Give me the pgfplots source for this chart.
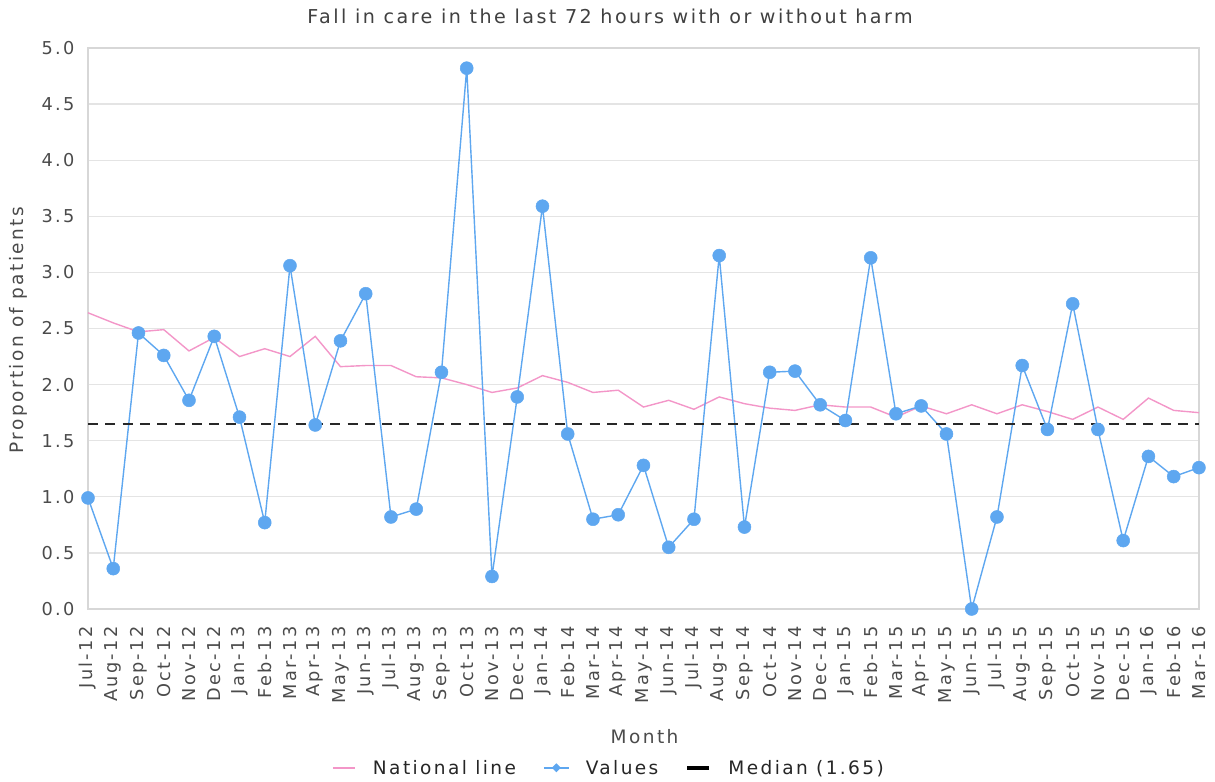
\documentclass[border=0pt]{standalone}
\usepackage{pgfplots}
\pgfplotsset{compat=1.18}
\usepackage{pgfplotstable}
\usepackage{fontspec}
\setmainfont{DejaVu Sans}[LetterSpace=13]

\definecolor{natpink}{RGB}{243,150,200}
\definecolor{valblue}{RGB}{94,167,240}
\definecolor{medgray}{RGB}{40,40,40}
\definecolor{gridgray}{RGB}{228,228,228}
\definecolor{boxgray}{RGB}{215,215,215}
\definecolor{txtgray}{RGB}{75,75,75}
\newcommand{\lblfont}{\fontsize{17.8}{20}\selectfont}
\newcommand{\bigfont}{\fontsize{18.6}{21}\selectfont}

% month index, national line, values
\pgfplotstableread{
i  nat   val
0  2.64  0.99
1  2.55  0.36
2  2.47  2.46
3  2.49  2.26
4  2.30  1.86
5  2.42  2.43
6  2.25  1.71
7  2.32  0.77
8  2.25  3.06
9  2.43  1.64
10 2.16  2.39
11 2.17  2.81
12 2.17  0.82
13 2.07  0.89
14 2.06  2.11
15 2.00  4.82
16 1.93  0.29
17 1.97  1.89
18 2.08  3.59
19 2.02  1.56
20 1.93  0.80
21 1.95  0.84
22 1.80  1.28
23 1.86  0.55
24 1.78  0.80
25 1.89  3.15
26 1.83  0.73
27 1.79  2.11
28 1.77  2.12
29 1.82  1.82
30 1.80  1.68
31 1.80  3.13
32 1.71  1.74
33 1.81  1.81
34 1.74  1.56
35 1.82  0.00
36 1.74  0.82
37 1.82  2.17
38 1.76  1.60
39 1.69  2.72
40 1.80  1.60
41 1.69  0.61
42 1.88  1.36
43 1.77  1.18
44 1.75  1.26
}\falls

\begin{document}
\begin{tikzpicture}
\path[use as bounding box] (-88bp,-173bp) rectangle (1127bp,609bp);
\begin{axis}[
  at={(0,0)}, anchor=south west,
  scale only axis, width=1111bp, height=561bp,
  xmin=0, xmax=44, ymin=0, ymax=5,
  clip=false,
  xtick={0,...,44},
  xticklabels={Jul-12,Aug-12,Sep-12,Oct-12,Nov-12,Dec-12,Jan-13,Feb-13,Mar-13,Apr-13,May-13,Jun-13,Jul-13,Aug-13,Sep-13,Oct-13,Nov-13,Dec-13,Jan-14,Feb-14,Mar-14,Apr-14,May-14,Jun-14,Jul-14,Aug-14,Sep-14,Oct-14,Nov-14,Dec-14,Jan-15,Feb-15,Mar-15,Apr-15,May-15,Jun-15,Jul-15,Aug-15,Sep-15,Oct-15,Nov-15,Dec-15,Jan-16,Feb-16,Mar-16},
  ytick={0,0.5,1,1.5,2,2.5,3,3.5,4,4.5,5},
  /pgf/number format/assume math mode=true,
  yticklabel style={/pgf/number format/fixed, /pgf/number format/fixed zerofill, /pgf/number format/precision=1},
  major tick length=0pt,
  ymajorgrids=true,
  grid style={draw=gridgray, line width=1.2bp},
  axis line style={draw=boxgray, line width=1.2bp},
  tick label style={font=\lblfont, text=txtgray},
  x tick label style={rotate=90, anchor=east},
  xticklabel shift=14bp,
  y tick label style={anchor=east, xshift=-10bp},
  title={Fall in care in the last 72 hours with or without harm},
  title style={font=\fontsize{19.2}{22}\selectfont, text=txtgray!85!black, at={(axis description cs:0.47,1.046)}, anchor=center},
  xlabel={Month},
  xlabel style={font=\bigfont, text=txtgray, at={(axis description cs:0.501,-0.228)}, anchor=center},
  ylabel={Proportion of patients},
  ylabel style={font=\bigfont, text=txtgray, at={(axis description cs:-0.063,0.497)}, anchor=center},
  legend columns=3,
  legend style={draw=none, fill=none, font=\bigfont, text=black!85,
    at={(axis description cs:0.469,-0.283)}, anchor=center,
    /tikz/every even column/.append style={column sep=25bp}},
]
\addplot[natpink, line width=1.4bp,
  legend image code/.code={\path[draw=none, fill=none] (0bp,0bp) -- (38bp,0bp);
    \draw[natpink, solid, line width=1.6bp] (0bp,0bp) -- (22bp,0bp);}]
  table[x=i, y=nat] {\falls};
\addlegendentry{National line}

\addplot[valblue, line width=1.4bp, mark=*, mark size=6.5bp,
  mark options={fill=valblue, draw=valblue, line width=0.5bp},
  legend image code/.code={\path[draw=none, fill=none] (0bp,0bp) -- (40bp,0bp);
    \draw[valblue, solid, line width=1.6bp] (0bp,0bp) -- (25bp,0bp);
    \fill[valblue] (12.5bp,0bp) +(0bp,3.5bp) -- +(3.5bp,0bp) -- +(0bp,-3.5bp) -- +(-3.5bp,0bp) -- cycle;}]
  table[x=i, y=val] {\falls};
\addlegendentry{Values}

\addplot[medgray, line width=2.2bp, dash pattern=on 10bp off 7.3bp,
  legend image code/.code={\path[draw=none, fill=none] (0bp,0bp) -- (39bp,0bp);
    \draw[black, solid, line width=4bp] (0bp,0bp) -- (22bp,0bp);}]
  coordinates {(0,1.65) (44,1.65)};
\addlegendentry{Median (1.65)}
\end{axis}
\end{tikzpicture}
\end{document}
